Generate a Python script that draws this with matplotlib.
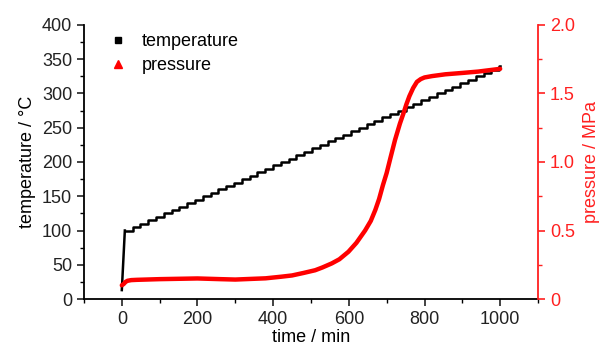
import matplotlib
matplotlib.use("Agg")
import matplotlib.pyplot as plt
from matplotlib.ticker import MultipleLocator, FixedLocator
from matplotlib.lines import Line2D

plt.rcParams['font.family'] = ['Liberation Sans', 'DejaVu Sans']

# temperature: initial ramp, then staircase levels (step start times)
temp_ramp_t = [0, 8]
temp_ramp_v = [13, 100]
temp_step_t = [8, 29, 49, 70, 90, 111, 132, 152, 173, 193, 214, 235, 255, 276, 296,
               317, 338, 358, 379, 399, 420, 441, 461, 482, 502, 523, 544, 564, 585,
               605, 626, 647, 667, 688, 708, 729, 750, 770, 791, 811, 832, 853, 873,
               894, 914, 935, 956, 976, 997]
temp_step_v = [100, 105, 110, 115, 120, 125, 130, 135, 140, 145, 150, 155, 160, 165,
               170, 175, 180, 185, 190, 195, 200, 205, 210, 215, 220, 225, 230, 235,
               240, 245, 250, 255, 260, 265, 270, 275, 280, 285, 290, 295, 300, 305,
               310, 315, 320, 325, 330, 335, 340]
temp_end_t = 1000

# pressure (MPa)
pres_t = [0, 5, 10, 15, 25, 40, 100, 200, 260, 300, 335, 380, 422, 450, 480, 511, 530,
          555, 575, 599, 620, 643, 658, 670, 680, 690, 700, 710, 722, 735, 745, 752,
          760, 770, 780, 790, 800, 820, 855, 900, 942, 1000]
pres_v = [0.10, 0.11, 0.125, 0.133, 0.138, 0.14, 0.145, 0.15, 0.145, 0.142, 0.146,
          0.151, 0.163, 0.172, 0.19, 0.21, 0.23, 0.26, 0.29, 0.345, 0.41, 0.50, 0.57,
          0.65, 0.73, 0.83, 0.92, 1.03, 1.16, 1.28, 1.36, 1.42, 1.48, 1.54, 1.585,
          1.605, 1.617, 1.627, 1.64, 1.65, 1.66, 1.68]

fig = plt.figure(figsize=(6.02, 3.47), dpi=100)
ax = fig.add_axes([0.1395, 0.1383, 0.7542, 0.7897])

ax.plot(temp_ramp_t, temp_ramp_v, color='black', lw=1.8)
ax.plot(temp_step_t + [temp_end_t], temp_step_v + [temp_step_v[-1]], color='black',
        lw=1.8, drawstyle='steps-post')

ax.set_xlim(-100, 1100)
ax.set_ylim(0, 400)
ax.xaxis.set_major_locator(MultipleLocator(200))
ax.xaxis.set_minor_locator(MultipleLocator(100))
ax.yaxis.set_major_locator(MultipleLocator(50))
ax.yaxis.set_minor_locator(MultipleLocator(25))
ax.spines['top'].set_visible(False)
ax.spines['right'].set_visible(False)
for s in ['left', 'bottom']:
    ax.spines[s].set_linewidth(1.3)
ax.tick_params(which='major', direction='out', length=5, width=1.2, labelsize=13,
               colors='#222222')
ax.tick_params(which='minor', direction='out', length=3, width=1.0)
ax.set_xlabel('time / min', fontsize=13, labelpad=1)
ax.set_ylabel('temperature / °C', fontsize=13, labelpad=4)

ax2 = ax.twinx()
ax2.plot(pres_t, pres_v, color='#ff0000', lw=3.2, solid_capstyle='round',
         solid_joinstyle='round')
ax2.set_ylim(0, 2.0)
ax2.yaxis.set_major_locator(FixedLocator([0, 0.5, 1.0, 1.5, 2.0]))
ax2.yaxis.set_minor_locator(MultipleLocator(0.25))
ax2.set_yticklabels(['0', '0.5', '1.0', '1.5', '2.0'])
for s in ['top', 'left', 'bottom']:
    ax2.spines[s].set_visible(False)
ax2.spines['right'].set_color('#ff2020')
ax2.spines['right'].set_linewidth(1.3)
ax2.tick_params(which='major', direction='out', length=5, width=1.2, labelsize=13,
                colors='#ff2020')
ax2.tick_params(which='minor', direction='out', length=3, width=1.0, colors='#ff2020')
ax2.set_ylabel('pressure / MPa', fontsize=13, color='#ff2020', labelpad=6)

handles = [Line2D([], [], ls='none', marker='s', color='black', markersize=5),
           Line2D([], [], ls='none', marker='^', color='#ff0000', markersize=6)]
ax.legend(handles, ['temperature', 'pressure'], loc='upper left',
          bbox_to_anchor=(0.009, 1.03), frameon=False, fontsize=13,
          handletextpad=0.6, labelspacing=0.4, handlelength=1.5)

fig.savefig('out.png', dpi=100)
